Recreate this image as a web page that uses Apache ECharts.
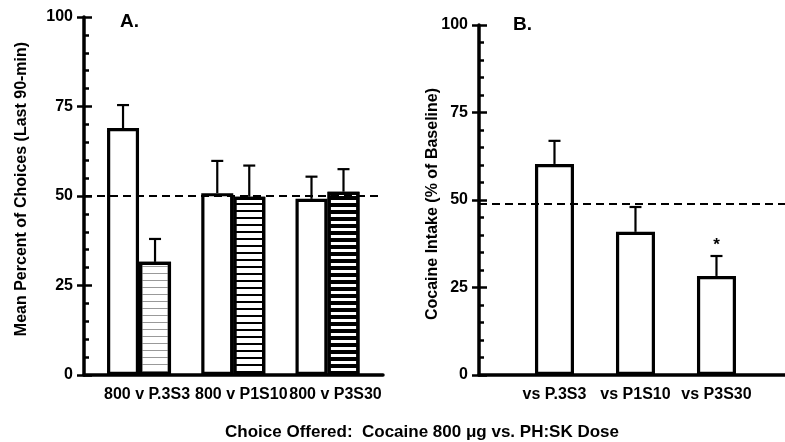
<!DOCTYPE html>
<html>
<head>
<meta charset="utf-8">
<script src="https://cdn.jsdelivr.net/npm/echarts@6/dist/echarts.min.js"></script>
<style>
  html, body { margin: 0; padding: 0; background: #fff; }
  #chart { width: 785px; height: 442px; }
</style>
</head>
<body>
<div id="chart"></div>
<script>
// A. choice between cocaine 800 and the PH:SK doses
var choicesA = ['800 v P.3S3', '800 v P1S10', '800 v P3S30'];
var groupPosA = [1, 2, 3];
var cocaineA = [69, 50.8, 49.2];
var cocaineErrA = [6.4, 9.0, 6.2];
var phskA = [31.6, 49.8, 51.2];
var phskErrA = [6.4, 8.7, 6.3];
var refLineA = 50;

// B. cocaine intake (% of baseline)
var choicesB = ['vs P.3S3', 'vs P1S10', 'vs P3S30'];
var groupPosB = [1, 2, 3];
var intakeB = [60.3, 40.9, 28.3];
var intakeErrB = [6.6, 7.1, 5.7];
var starsB = ['', '', '*'];
var refLineB = 49;

var FONT = "'Liberation Sans', Arial, sans-serif";

// hatch for the PH:SK bars (light, medium, dense)
var hatchA = [
    { symbol: 'rect', symbolSize: 1, dashArrayX: [10, 0], dashArrayY: [1, 5.5], rotation: 0, color: '#999' },
    { symbol: 'rect', symbolSize: 1, dashArrayX: [10, 0], dashArrayY: [2, 4.5], rotation: 0, color: '#000' },
    { symbol: 'rect', symbolSize: 1, dashArrayX: [10, 0], dashArrayY: [3.5, 3], rotation: 0, color: '#000' }
];

var myChart = echarts.init(document.getElementById('chart'));

function yAxes(gridIdx) {
    return [{
        gridIndex: gridIdx,
        type: 'value', min: 0, max: 100, interval: 25,
        axisLine: { show: true, lineStyle: { color: '#000', width: 3.5 } },
        axisTick: { show: true, inside: true, length: 8, lineStyle: { color: '#000', width: 2.5 } },
        minorTick: { show: true, splitNumber: 5, length: 5, lineStyle: { color: '#000', width: 2.5 } },
        axisLabel: { color: '#000', fontFamily: FONT, fontWeight: 'bold', fontSize: 16, margin: 11 },
        splitLine: { show: false }
    }, {
        // outer half of the major ticks
        gridIndex: gridIdx,
        type: 'value', min: 0, max: 100, interval: 25, position: 'left',
        axisLine: { show: false },
        axisTick: { show: true, length: 7, lineStyle: { color: '#000', width: 2.5 } },
        axisLabel: { show: false },
        splitLine: { show: false }
    }];
}

function xAxis(gridIdx, min, max, names, pad) {
    return {
        gridIndex: gridIdx,
        type: 'value', min: min, max: max,
        axisLine: { show: true, lineStyle: { color: '#000', width: 3.5 } },
        axisTick: { show: false },
        splitLine: { show: false },
        axisLabel: {
            customValues: [1, 2, 3],
            formatter: function(v) { return names[Math.round(v) - 1]; },
            color: '#000', fontFamily: FONT, fontWeight: 'bold', fontSize: 16,
            margin: 12, padding: [0, 0, 0, pad]
        }
    };
}

// error bars (upward only) drawn through the axes' scales
function errorSeries(xi, yi, xPos, vals, errs, offset, capW, marks, refLine) {
    return {
        type: 'custom',
        xAxisIndex: xi, yAxisIndex: yi,
        z: 5,
        silent: true,
        encode: { x: 0, y: [1, 2] },
        data: xPos.map(function(x, i) { return [x, vals[i], vals[i] + errs[i], i]; }),
        renderItem: function(params, api) {
            var base = api.coord([api.value(0), api.value(1)]);
            var top = api.coord([api.value(0), api.value(2)]);
            var cx = base[0] + offset;
            var style = { stroke: '#000', lineWidth: 2.2 };
            var kids = [
                { type: 'line', shape: { x1: cx, y1: base[1], x2: cx, y2: top[1] }, style: style },
                { type: 'line', shape: { x1: cx - capW / 2, y1: top[1], x2: cx + capW / 2, y2: top[1] }, style: style }
            ];
            var m = marks ? marks[api.value(3)] : '';
            if (m) {
                kids.push({
                    type: 'text',
                    style: { text: m, x: cx, y: top[1] - 2, align: 'center', verticalAlign: 'bottom',
                        font: 'bold 17px ' + FONT, fill: '#000' }
                });
            }
            return { type: 'group', children: kids };
        },
        markLine: refLine == null ? undefined : {
            silent: true, symbol: 'none', label: { show: false },
            lineStyle: { color: '#000', width: 2, type: [8, 5] },
            data: [{ yAxis: refLine }]
        }
    };
}

var barStyle = { color: '#fff', borderColor: '#000', borderWidth: 3.2 };

option = {
    animation: false,
    backgroundColor: '#fff',
    grid: [
        { left: 84, top: 17, width: 299, height: 358 },
        { left: 479, top: 25, right: 0, height: 350 }
    ],
    xAxis: [
        xAxis(0, 0.416, 3.589, choicesA, 16),
        xAxis(1, 0.068, 3.846, choicesB, 0)
    ],
    yAxis: yAxes(0).concat(yAxes(1).map(function(a) { a.gridIndex = 1; return a; })),
    graphic: [
        { type: 'text', left: 120, top: 12, style: { text: 'A.', font: 'bold 19px ' + FONT, fill: '#000' } },
        { type: 'text', left: 513, top: 15, style: { text: 'B.', font: 'bold 19px ' + FONT, fill: '#000' } },
        { type: 'text', x: 422, y: 432, style: { text: 'Choice Offered:  Cocaine 800 \u03bcg vs. PH:SK Dose', font: 'bold 17px ' + FONT, fill: '#000', align: 'center', verticalAlign: 'middle' } },
        { type: 'text', x: 22, y: 189, rotation: Math.PI / 2, style: { text: 'Mean Percent of Choices (Last 90-min)', font: 'bold 16px ' + FONT, fill: '#000', align: 'center', verticalAlign: 'middle' } },
        { type: 'text', x: 433, y: 204, rotation: Math.PI / 2, style: { text: 'Cocaine Intake (% of Baseline)', font: 'bold 16px ' + FONT, fill: '#000', align: 'center', verticalAlign: 'middle' } }
    ],
    series: [
        {
            name: 'Cocaine 800', type: 'bar', xAxisIndex: 0, yAxisIndex: 0,
            barWidth: 32, barGap: '0%',
            itemStyle: barStyle,
            data: groupPosA.map(function(x, i) { return [x, cocaineA[i]]; })
        },
        {
            name: 'PH:SK', type: 'bar', xAxisIndex: 0, yAxisIndex: 0,
            barWidth: 32, barGap: '0%',
            itemStyle: barStyle,
            data: groupPosA.map(function(x, i) {
                return { value: [x, phskA[i]], itemStyle: { decal: hatchA[i] } };
            })
        },
        {
            name: 'Intake', type: 'bar', xAxisIndex: 1, yAxisIndex: 2,
            barWidth: 39,
            itemStyle: barStyle,
            data: groupPosB.map(function(x, i) { return [x, intakeB[i]]; })
        },
        errorSeries(0, 0, groupPosA, cocaineA, cocaineErrA, -16, 12, null, refLineA),
        errorSeries(0, 0, groupPosA, phskA, phskErrA, 16, 12, null, null),
        errorSeries(1, 2, groupPosB, intakeB, intakeErrB, 0, 12, starsB, refLineB)
    ]
};

myChart.setOption(option);
</script>
</body>
</html>
